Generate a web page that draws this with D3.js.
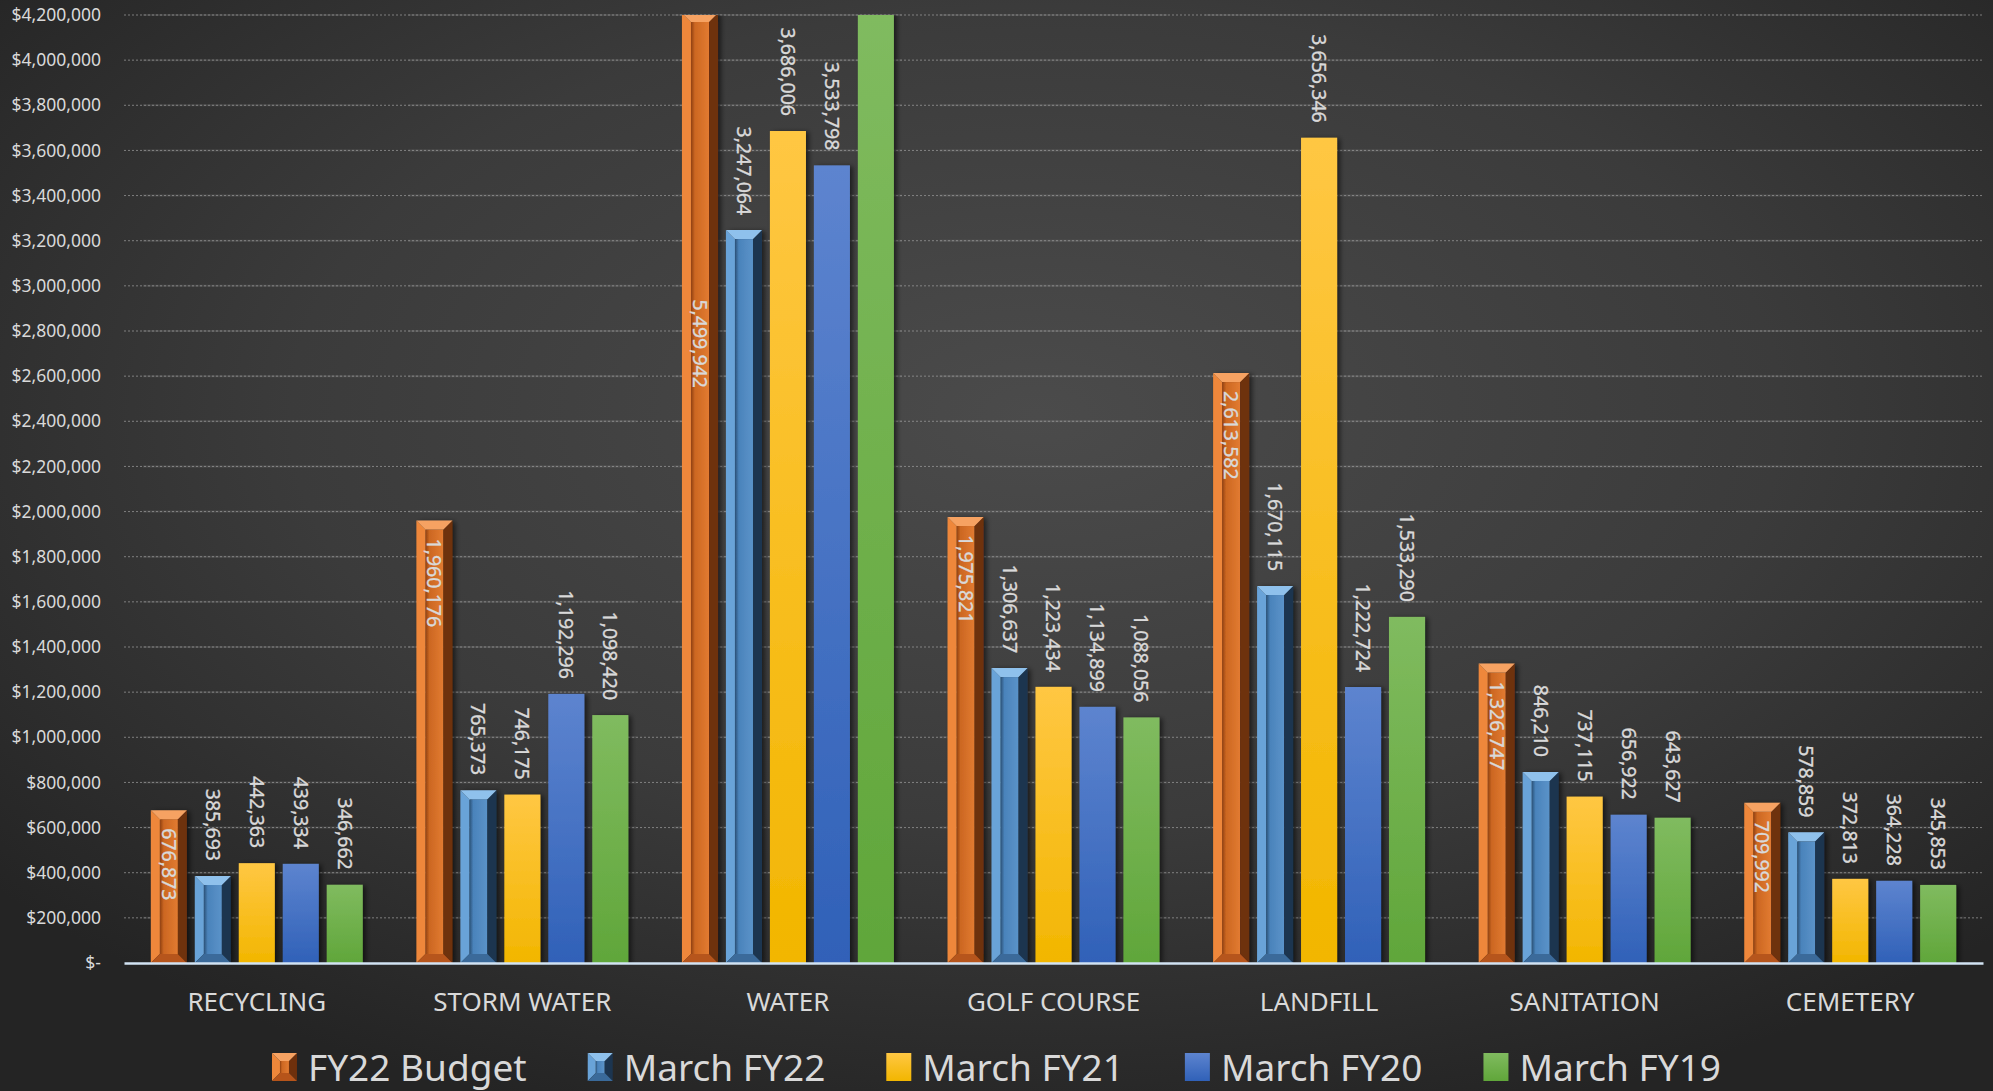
<!DOCTYPE html>
<html>
<head>
<meta charset="utf-8">
<script src="https://cdn.jsdelivr.net/npm/d3@7"></script>
<style>
  html, body { margin: 0; padding: 0; background: #2a2a2a; }
  svg { display: block; }
  text { font-family: "Noto Sans", "DejaVu Sans", sans-serif; fill: #d9d9d9; }
</style>
</head>
<body>
<script>
"use strict";

// data
var categories = ["RECYCLING", "STORM WATER", "WATER", "GOLF COURSE", "LANDFILL", "SANITATION", "CEMETERY"];
var series = ["FY22 Budget", "March FY22", "March FY21", "March FY20", "March FY19"];
var fy22Budget = [676873, 1960176, 5499942, 1975821, 2613582, 1326747, 709992];
var marchFY22 = [385693, 765373, 3247064, 1306637, 1670115, 846210, 578859];
var marchFY21 = [442363, 746175, 3686006, 1223434, 3656346, 737115, 372813];
var marchFY20 = [439334, 1192296, 3533798, 1134899, 1222724, 656922, 364228];
var marchFY19 = [346662, 1098420, 4300000, 1088056, 1533290, 643627, 345853]; // water bar runs off the top, value unreadable
var yTicks = [0, 200000, 400000, 600000, 800000, 1000000, 1200000, 1400000, 1600000, 1800000, 2000000,
              2200000, 2400000, 2600000, 2800000, 3000000, 3200000, 3400000, 3600000, 3800000, 4000000, 4200000];

var values = [fy22Budget, marchFY22, marchFY21, marchFY20, marchFY19];
var styles = ["bevelOrange", "bevelBlue", "flatYellow", "flatBlue", "flatGreen"];

function draw_chart() {
    var width = 1993;
    var height = 1091;
    var plot = {left: 124, right: 1983, top: 15, bottom: 963};

    var svg = d3.select("body").append("svg")
        .attr("width", width)
        .attr("height", height);

    var defs = svg.append("defs");

    // background
    var bg = defs.append("radialGradient").attr("id", "bg")
        .attr("cx", "52%").attr("cy", "38%").attr("r", "68%");
    bg.append("stop").attr("offset", "0%").attr("stop-color", "#4b4b4b");
    bg.append("stop").attr("offset", "55%").attr("stop-color", "#3b3b3b");
    bg.append("stop").attr("offset", "100%").attr("stop-color", "#242424");
    svg.append("rect").attr("width", width).attr("height", height).attr("fill", "url(#bg)");

    function linGrad(id, horiz, stops) {
        var g = defs.append("linearGradient").attr("id", id)
            .attr("x1", 0).attr("y1", 0)
            .attr("x2", horiz ? 1 : 0).attr("y2", horiz ? 0 : 1);
        stops.forEach(function(s) {
            g.append("stop").attr("offset", s[0]).attr("stop-color", s[1]);
        });
    }
    linGrad("flatYellow", false, [["0%", "#ffc743"], ["100%", "#f2b600"]]);
    linGrad("flatBlue", false, [["0%", "#5d84cf"], ["100%", "#3061b8"]]);
    linGrad("flatGreen", false, [["0%", "#80bb5f"], ["100%", "#60a63a"]]);
    linGrad("orangeInner", true, [["0%", "#8f4010"], ["22%", "#cc6722"], ["100%", "#e27b31"]]);
    linGrad("blueInner", true, [["0%", "#2a5075"], ["22%", "#4a83bb"], ["100%", "#5b93c9"]]);

    var bevelPal = {
        bevelOrange: {top: "#f6a262", left: "#ee873a", right: "#6e300c", bottom: "#b6541a", inner: "url(#orangeInner)"},
        bevelBlue: {top: "#8fc1ec", left: "#69a3d8", right: "#1c3550", bottom: "#3a6a9a", inner: "url(#blueInner)"}
    };

    var shadow = defs.append("filter").attr("id", "shadow")
        .attr("x", "-30%").attr("y", "-5%").attr("width", "160%").attr("height", "110%");
    shadow.append("feDropShadow").attr("dx", 3).attr("dy", 1)
        .attr("stdDeviation", 2.5).attr("flood-color", "#000").attr("flood-opacity", 0.55);

    defs.append("clipPath").attr("id", "plotclip")
        .append("rect").attr("x", plot.left).attr("y", plot.top)
        .attr("width", plot.right - plot.left).attr("height", plot.bottom - plot.top + 2);

    // scales
    var x0 = d3.scaleBand().domain(categories).range([plot.left, plot.right]);
    var x1 = d3.scaleBand().domain(series).range([0, x0.bandwidth()])
        .paddingInner(0.18).paddingOuter(0.61);
    var y = d3.scaleLinear().domain([0, 4200000]).range([plot.bottom, plot.top]);
    var yMax = y.domain()[1];

    // gridlines: faint solid under the groups, dotted across
    var grid = svg.append("g");
    yTicks.filter(function(t) { return t > 0; }).forEach(function(t) {
        categories.forEach(function(c) {
            grid.append("line")
                .attr("x1", x0(c) + x1(series[0]) - 8)
                .attr("x2", x0(c) + x1(series[4]) + x1.bandwidth() + 8)
                .attr("y1", y(t)).attr("y2", y(t))
                .attr("stroke", "#ffffff").attr("stroke-opacity", 0.1).attr("stroke-width", 2);
        });
        grid.append("line")
            .attr("x1", plot.left).attr("x2", plot.right)
            .attr("y1", y(t)).attr("y2", y(t))
            .attr("stroke", "#9a9a9a").attr("stroke-opacity", 0.75)
            .attr("stroke-width", 1).attr("stroke-dasharray", "2,2");
    });

    // bars
    var rows = [];
    categories.forEach(function(c, ci) {
        series.forEach(function(s, si) {
            rows.push({cat: c, ser: s, si: si, value: values[si][ci], style: styles[si]});
        });
    });

    var barsG = svg.append("g").attr("clip-path", "url(#plotclip)");

    function bevelBar(g, x, yTop, w, h, pal, b) {
        b = Math.min(b, w / 2, h / 2);
        g.append("rect").attr("x", x + b).attr("y", yTop + b)
            .attr("width", w - 2 * b).attr("height", Math.max(0, h - 2 * b)).attr("fill", pal.inner);
        var pts = function(p) { return p.map(function(q) { return q.join(","); }).join(" "); };
        g.append("polygon").attr("fill", pal.left)
            .attr("points", pts([[x, yTop], [x + b, yTop + b], [x + b, yTop + h - b], [x, yTop + h]]));
        g.append("polygon").attr("fill", pal.right)
            .attr("points", pts([[x + w, yTop], [x + w - b, yTop + b], [x + w - b, yTop + h - b], [x + w, yTop + h]]));
        g.append("polygon").attr("fill", pal.top)
            .attr("points", pts([[x, yTop], [x + w, yTop], [x + w - b, yTop + b], [x + b, yTop + b]]));
        g.append("polygon").attr("fill", pal.bottom)
            .attr("points", pts([[x, yTop + h], [x + w, yTop + h], [x + w - b, yTop + h - b], [x + b, yTop + h - b]]));
    }

    rows.forEach(function(d) {
        var bx = x0(d.cat) + x1(d.ser);
        var bw = x1.bandwidth();
        var top = d.value > yMax ? y(yMax) - 2 : y(d.value);
        var h = y(0) - top;
        var g = barsG.append("g").attr("filter", "url(#shadow)");
        if (bevelPal[d.style]) {
            bevelBar(g, bx, top, bw, h, bevelPal[d.style], 9);
        } else {
            g.append("rect").attr("x", bx).attr("y", top)
                .attr("width", bw).attr("height", h)
                .attr("fill", "url(#" + d.style + ")");
        }
    });

    // value labels (rotated, reading downward)
    var fmt = d3.format(",");
    var labels = svg.append("g").style("font-size", "19.5px")
        .attr("stroke", "#d9d9d9").attr("stroke-width", 0.35);
    rows.forEach(function(d) {
        var cx = x0(d.cat) + x1(d.ser) + x1.bandwidth() / 2;
        var ly, anchor;
        if (d.si === 0) {
            // inside end
            ly = d.value > yMax ? y(yMax * 0.7) : y(d.value) + 18;
            anchor = "start";
        } else {
            if (d.value > yMax) return;
            ly = y(d.value) - 15;
            anchor = "end";
        }
        labels.append("text")
            .attr("transform", "translate(" + cx + "," + ly + ")rotate(90)")
            .attr("text-anchor", anchor)
            .attr("dy", "0.36em")
            .text(fmt(d.value));
    });

    // y axis
    var yAxis = svg.append("g")
        .attr("transform", "translate(" + plot.left + ",0)")
        .call(d3.axisLeft(y).tickValues(yTicks).tickSize(0).tickPadding(23)
            .tickFormat(function(v) { return v === 0 ? "$-" : "$" + fmt(v); }));
    yAxis.select(".domain").remove();
    yAxis.selectAll("text").attr("fill", "#dcdcdc")
        .style("font-size", "17.5px").style("font-family", "'Noto Sans', sans-serif");

    // x axis
    var xAxis = svg.append("g")
        .attr("transform", "translate(0," + plot.bottom + ")")
        .call(d3.axisBottom(x0).tickSize(0).tickSizeOuter(0).tickPadding(30));
    xAxis.select(".domain").attr("stroke", "#d2e3f3").attr("stroke-width", 2.5);
    xAxis.selectAll("text").attr("fill", "#d9d9d9")
        .style("font-size", "26px").style("font-family", "'Noto Sans', sans-serif");

    // legend
    var legend = svg.append("g");
    var lx = 0;
    var markW = 25, markH = 28, baseY = 1081;
    series.forEach(function(s, si) {
        var item = legend.append("g").attr("transform", "translate(" + lx + ",0)");
        if (bevelPal[styles[si]]) {
            bevelBar(item, 0, baseY - markH, markW, markH, bevelPal[styles[si]], 8);
        } else {
            item.append("rect").attr("x", 0).attr("y", baseY - markH)
                .attr("width", markW).attr("height", markH)
                .attr("fill", "url(#" + styles[si] + ")");
        }
        var t = item.append("text")
            .attr("x", markW + 11).attr("y", baseY)
            .style("font-size", "37px")
            .text(s);
        lx += markW + 11 + t.node().getComputedTextLength() + 61;
    });
    var legendW = lx - 61;
    legend.attr("transform", "translate(" + ((width - legendW) / 2) + ",0)");
}

draw_chart();
</script>
</body>
</html>
